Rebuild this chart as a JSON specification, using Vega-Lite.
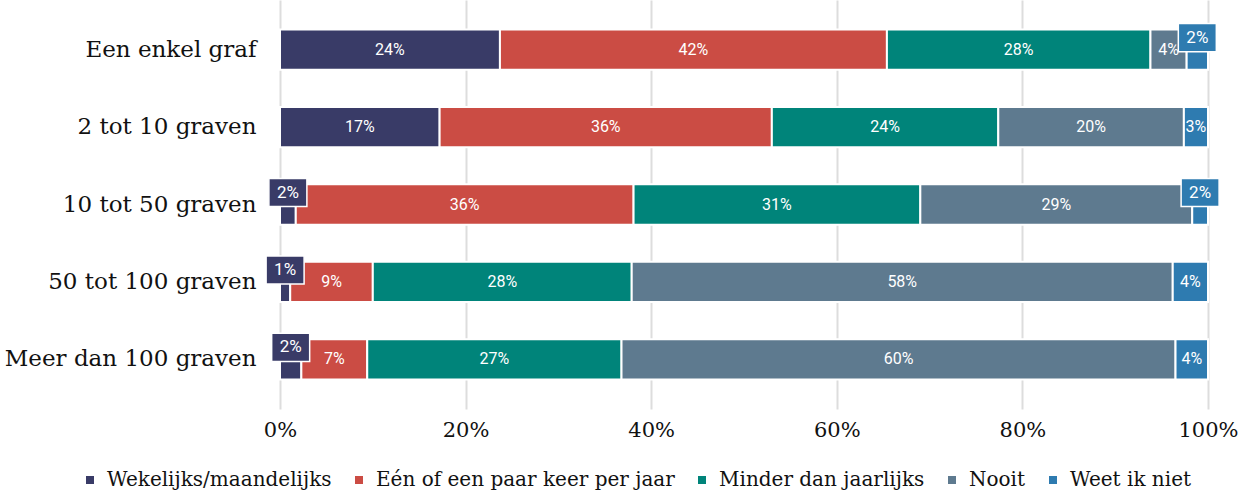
{
  "$schema": "https://vega.github.io/schema/vega-lite/v6.json",
  "width": 928,
  "height": 409,
  "autosize": "none",
  "padding": {"left": 280, "top": 0, "right": 47, "bottom": 82},
  "background": "white",
  "config": {"view": {"stroke": null}},
  "data": {
    "values": [
      {"cat": "Een enkel graf", "s": "Wekelijks/maandelijks", "p": 0.237},
      {"cat": "Een enkel graf", "s": "Eén of een paar keer per jaar", "p": 0.417},
      {"cat": "Een enkel graf", "s": "Minder dan jaarlijks", "p": 0.284},
      {"cat": "Een enkel graf", "s": "Nooit", "p": 0.039},
      {"cat": "Een enkel graf", "s": "Weet ik niet", "p": 0.023},
      {"cat": "2 tot 10 graven", "s": "Wekelijks/maandelijks", "p": 0.172},
      {"cat": "2 tot 10 graven", "s": "Eén of een paar keer per jaar", "p": 0.358},
      {"cat": "2 tot 10 graven", "s": "Minder dan jaarlijks", "p": 0.244},
      {"cat": "2 tot 10 graven", "s": "Nooit", "p": 0.200},
      {"cat": "2 tot 10 graven", "s": "Weet ik niet", "p": 0.026},
      {"cat": "10 tot 50 graven", "s": "Wekelijks/maandelijks", "p": 0.017},
      {"cat": "10 tot 50 graven", "s": "Eén of een paar keer per jaar", "p": 0.364},
      {"cat": "10 tot 50 graven", "s": "Minder dan jaarlijks", "p": 0.309},
      {"cat": "10 tot 50 graven", "s": "Nooit", "p": 0.293},
      {"cat": "10 tot 50 graven", "s": "Weet ik niet", "p": 0.017},
      {"cat": "50 tot 100 graven", "s": "Wekelijks/maandelijks", "p": 0.011},
      {"cat": "50 tot 100 graven", "s": "Eén of een paar keer per jaar", "p": 0.089},
      {"cat": "50 tot 100 graven", "s": "Minder dan jaarlijks", "p": 0.279},
      {"cat": "50 tot 100 graven", "s": "Nooit", "p": 0.583},
      {"cat": "50 tot 100 graven", "s": "Weet ik niet", "p": 0.038},
      {"cat": "Meer dan 100 graven", "s": "Wekelijks/maandelijks", "p": 0.023},
      {"cat": "Meer dan 100 graven", "s": "Eén of een paar keer per jaar", "p": 0.071},
      {"cat": "Meer dan 100 graven", "s": "Minder dan jaarlijks", "p": 0.274},
      {"cat": "Meer dan 100 graven", "s": "Nooit", "p": 0.597},
      {"cat": "Meer dan 100 graven", "s": "Weet ik niet", "p": 0.035}
    ]
  },
  "transform": [
    {"calculate": "indexof(['Wekelijks/maandelijks','Eén of een paar keer per jaar','Minder dan jaarlijks','Nooit','Weet ik niet'], datum.s)", "as": "idx"},
    {"stack": "p", "groupby": ["cat"], "sort": [{"field": "idx", "order": "ascending"}], "as": ["p0", "p1"]},
    {"calculate": "(datum.p0 + datum.p1) / 2", "as": "mid"}
  ],
  "encoding": {
    "y": {
      "field": "cat", "type": "nominal",
      "sort": ["Een enkel graf", "2 tot 10 graven", "10 tot 50 graven", "50 tot 100 graven", "Meer dan 100 graven"],
      "scale": {"paddingInner": 0.48, "paddingOuter": 0.38},
      "axis": {"title": null, "domain": false, "ticks": false, "grid": false, "labelFont": "DejaVu Serif", "labelFontSize": 23, "labelColor": "#111111", "labelPadding": 24, "labelLimit": 0}
    }
  },
  "layer": [
    {
      "mark": {"type": "bar", "stroke": "white", "strokeWidth": 2},
      "encoding": {
        "x": {
          "field": "p0", "type": "quantitative",
          "scale": {"domain": [0, 1], "nice": false},
          "axis": {"title": null, "values": [0, 0.2, 0.4, 0.6, 0.8, 1], "format": ".0%", "domain": false, "ticks": false, "grid": true, "gridColor": "#dddddd", "gridWidth": 2, "labelFont": "DejaVu Serif", "labelFontSize": 21, "labelColor": "#111111", "labelPadding": 10, "labelFlush": false}
        },
        "x2": {"field": "p1"},
        "color": {
          "field": "s", "type": "nominal",
          "scale": {
            "domain": ["Wekelijks/maandelijks", "Eén of een paar keer per jaar", "Minder dan jaarlijks", "Nooit", "Weet ik niet"],
            "range": ["#393b67", "#cb4c44", "#00847a", "#5e7a8f", "#2e7bb0"]
          },
          "legend": {
            "title": null, "orient": "none", "direction": "horizontal", "legendX": -200, "legendY": 470,
            "symbolType": "square", "symbolSize": 64, "symbolStrokeWidth": 0, "labelFont": "DejaVu Serif", "labelFontSize": 20, "labelColor": "#111111", "labelOffset": 7, "columnPadding": 17, "labelLimit": 0
          }
        }
      }
    },
    {
      "transform": [{"filter": "datum.p >= 0.025"}],
      "mark": {"type": "text", "font": "Roboto", "fontSize": 16, "color": "white", "align": "center", "baseline": "middle"},
      "encoding": {
        "x": {"field": "mid", "type": "quantitative"},
        "text": {"field": "p", "type": "quantitative", "format": ".0%"}
      }
    },
    {
      "transform": [{"filter": "datum.p < 0.025"}],
      "mark": {"type": "point", "shape": "M-1,-0.74H1V0.74H-1Z", "size": 1444, "filled": true, "opacity": 1, "stroke": "white", "strokeWidth": 1.5, "yOffset": -12},
      "encoding": {
        "x": {"field": "mid", "type": "quantitative"},
        "color": {"field": "s", "type": "nominal"}
      }
    },
    {
      "transform": [{"filter": "datum.p < 0.025"}],
      "mark": {"type": "text", "font": "Roboto", "fontSize": 17, "color": "white", "align": "center", "baseline": "middle", "yOffset": -12},
      "encoding": {
        "x": {"field": "mid", "type": "quantitative"},
        "text": {"field": "p", "type": "quantitative", "format": ".0%"}
      }
    }
  ]
}
